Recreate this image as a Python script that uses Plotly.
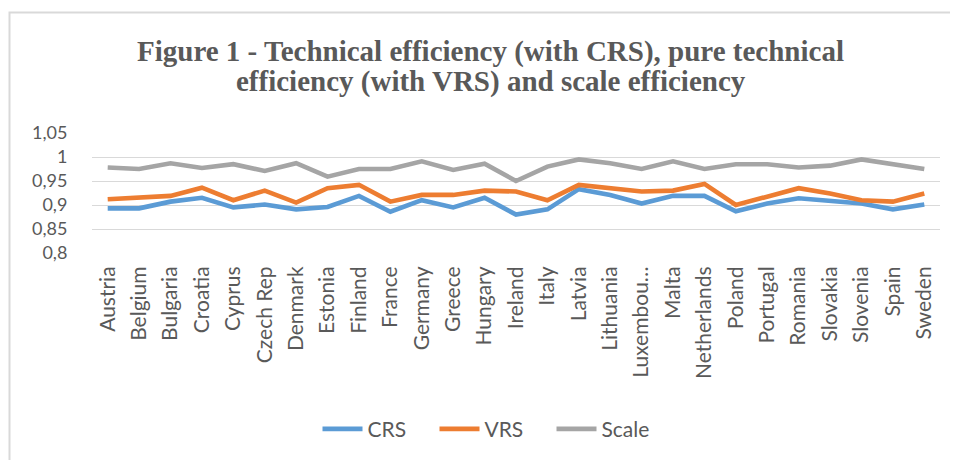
import plotly.graph_objects as go

countries = ["Austria", "Belgium", "Bulgaria", "Croatia", "Cyprus", "Czech Rep", "Denmark",
             "Estonia", "Finland", "France", "Germany", "Greece", "Hungary", "Ireland", "Italy",
             "Latvia", "Lithuania", "Luxembourg", "Malta", "Netherlands", "Poland", "Portugal",
             "Romania", "Slovakia", "Slovenia", "Spain", "Sweden"]
tick_labels = ["Austria", "Belgium", "Bulgaria", "Croatia", "Cyprus", "Czech Rep", "Denmark",
               "Estonia", "Finland", "France", "Germany", "Greece", "Hungary", "Ireland", "Italy",
               "Latvia", "Lithuania", "Luxembou…", "Malta", "Netherlands", "Poland", "Portugal",
               "Romania", "Slovakia", "Slovenia", "Spain", "Sweden"]

crs = [0.893, 0.893, 0.907, 0.915, 0.895, 0.901, 0.891, 0.896, 0.919, 0.886, 0.910, 0.895,
       0.915, 0.880, 0.891, 0.933, 0.921, 0.903, 0.919, 0.919, 0.887, 0.903, 0.914, 0.908,
       0.903, 0.891, 0.901]
vrs = [0.912, 0.916, 0.919, 0.936, 0.910, 0.930, 0.905, 0.935, 0.942, 0.907, 0.921, 0.921,
       0.930, 0.928, 0.910, 0.942, 0.936, 0.928, 0.930, 0.944, 0.900, 0.917, 0.935, 0.924,
       0.910, 0.907, 0.924]
scale = [0.978, 0.975, 0.987, 0.977, 0.985, 0.971, 0.987, 0.959, 0.975, 0.975, 0.991, 0.973,
         0.986, 0.950, 0.980, 0.995, 0.987, 0.975, 0.991, 0.975, 0.985, 0.985, 0.978, 0.982,
         0.995, 0.984, 0.975]

y_ticks = [0.8, 0.85, 0.9, 0.95, 1.0, 1.05]
y_tick_labels = ["0,8", "0,85", "0,9", "0,95", "1", "1,05"]

title_lines = ["Figure 1 - Technical efficiency (with CRS), pure technical",
               "efficiency (with VRS) and scale efficiency"]

series = [("CRS", crs, "#5B9BD5"), ("VRS", vrs, "#ED7D31"), ("Scale", scale, "#A5A5A5")]

fig = go.Figure()
for name, vals, col in series:
    fig.add_trace(go.Scatter(x=countries, y=vals, name=name, mode="lines",
                             line=dict(color=col, width=4.6)))

# page body has an 8px margin: work in screen pixels, convert to figure pixels
OFF = 8
W, H = 958 - OFF, 460 - OFF
L, R, T, B = 92 - OFF, 940 - OFF, 133.3 - OFF, 252.7 - OFF
pw, ph = R - L, B - T

def px(x):
    return (x - OFF - L) / pw

def py(y):
    return (B - (y - OFF)) / ph

TXT = "#595959"
SANS = "Lato, Liberation Sans, sans-serif"
SERIF = "Liberation Serif, Times New Roman, serif"

annotations = []
for i, (line, cy) in enumerate(zip(title_lines, [52.5, 82.5])):
    annotations.append(dict(text="<b>" + line + "</b>", xref="paper", yref="paper",
                            x=px(490.5), y=py(cy), xanchor="center", yanchor="middle",
                            showarrow=False,
                            font=dict(family=SERIF, size=29, color=TXT)))

fig.update_layout(
    width=W, height=H,
    margin=dict(l=L, r=W - R, t=T, b=H - B, pad=0, autoexpand=False),
    paper_bgcolor="white", plot_bgcolor="white",
    annotations=annotations,
    xaxis=dict(type="category", range=[-0.5, len(countries) - 0.5],
               tickmode="array", tickvals=countries, ticktext=tick_labels,
               tickangle=-90, tickfont=dict(family=SANS, size=21, color=TXT),
               showgrid=False, zeroline=False, showline=False,
               ticks="outside", ticklen=4, tickcolor="rgba(0,0,0,0)"),
    yaxis=dict(range=[0.8, 1.05], tickmode="array", tickvals=y_ticks, ticktext=y_tick_labels,
               tickfont=dict(family=SANS, size=18, color=TXT),
               showgrid=True, gridcolor="#D9D9D9", gridwidth=1.3,
               zeroline=False, showline=False,
               ticks="outside", ticklen=20, tickcolor="rgba(0,0,0,0)"),
    legend=dict(orientation="h", x=px(493), xanchor="center", y=py(428), yanchor="middle",
                font=dict(family=SANS, size=21, color=TXT), bgcolor="rgba(0,0,0,0)",
                entrywidth=62, itemwidth=40),
    showlegend=True,
    shapes=[dict(type="rect", xref="paper", yref="paper",
                 x0=px(9.5), x1=px(975), y0=py(480), y1=py(13.5),
                 line=dict(color="#D9D9D9", width=2), fillcolor="rgba(0,0,0,0)", layer="below")],
)

fig.write_html("out.html")
